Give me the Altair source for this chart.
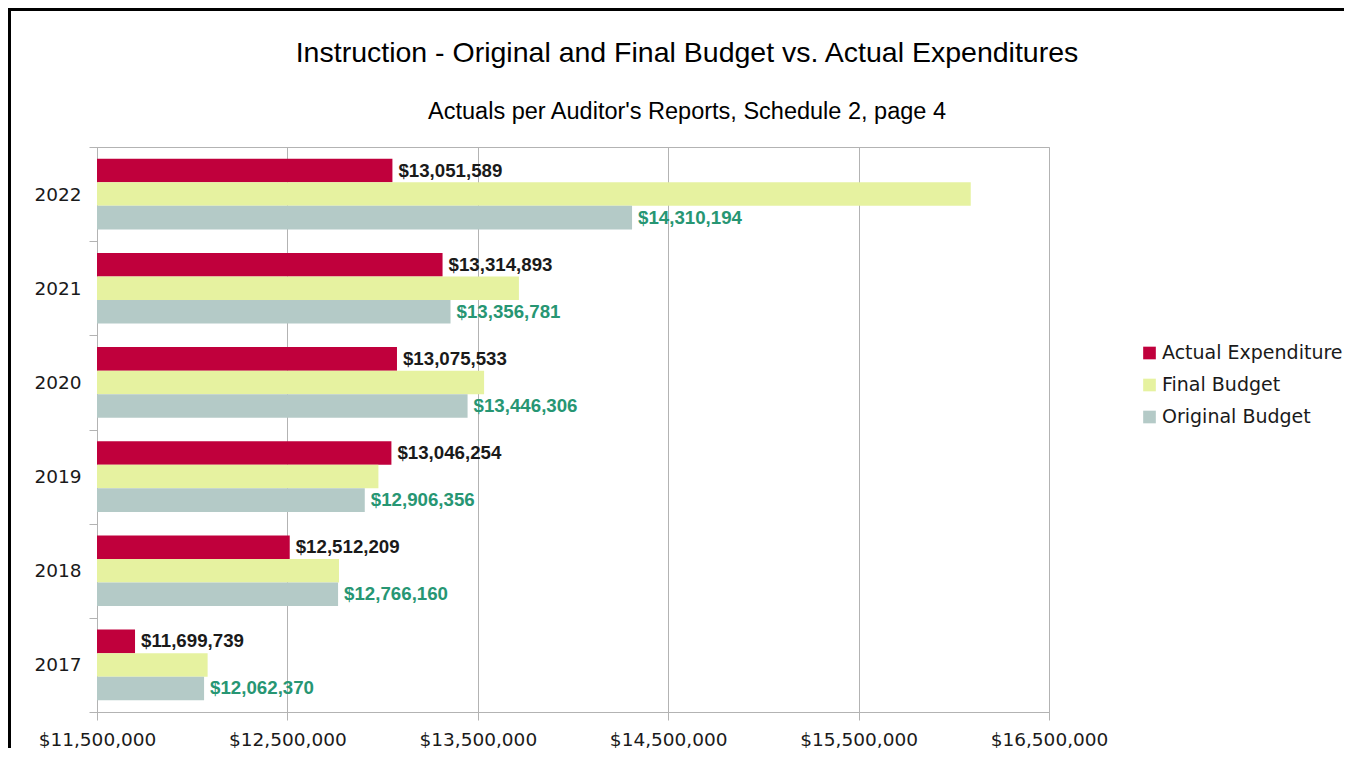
import altair as alt
import pandas as pd

years = ["2017", "2018", "2019", "2020", "2021", "2022"]
actual = [11699739, 12512209, 13046254, 13075533, 13314893, 13051589]
final_budget = [12081000, 12771000, 12978000, 13533000, 13716000, 16089000]
original = [12062370, 12766160, 12906356, 13446306, 13356781, 14310194]
series = ["Actual Expenditure", "Final Budget", "Original Budget"]
colors = ["#c0003c", "#e6f2a0", "#b4cac7"]
x_ticks = [11500000, 12500000, 13500000, 14500000, 15500000, 16500000]
title_text = "Instruction - Original and Final Budget vs. Actual Expenditures"
subtitle_text = "Actuals per Auditor's Reports, Schedule 2, page 4"

rows = []
for i, yr in enumerate(years):
    for s, vals in zip(series, [actual, final_budget, original]):
        rows.append({"year": yr, "series": s, "value": vals[i]})
df = pd.DataFrame(rows)

year_order = years[::-1]
GRID = "#b3b3b3"

y_enc = alt.Y(
    "year:N", sort=year_order,
    scale=alt.Scale(paddingInner=0, paddingOuter=0),
    axis=alt.Axis(title=None, tickBand="extent", tickSize=8, tickColor=GRID,
                  domainColor=GRID, labelFontSize=18.5, labelFont="DejaVu Sans",
                  labelColor="#1a1a1a", labelPadding=8, grid=False),
)
yoff = alt.YOffset("series:N", sort=series,
                   scale=alt.Scale(paddingInner=0, paddingOuter=0.5))
x_enc = alt.X(
    "value:Q",
    scale=alt.Scale(domain=[11500000, 16500000], nice=False, zero=False),
    axis=alt.Axis(title=None, values=x_ticks, format="$,.0f", grid=True,
                  gridColor=GRID, tickColor=GRID, domainColor=GRID, tickSize=8,
                  labelFontSize=18.5, labelFont="DejaVu Sans", labelFlush=False,
                  labelColor="#1a1a1a", labelPadding=10),
)

base = alt.Chart(df)

bars = base.mark_bar().encode(
    y=y_enc, yOffset=yoff, x=x_enc, x2=alt.datum(11500000),
    color=alt.Color(
        "series:N", sort=series,
        scale=alt.Scale(domain=series, range=colors),
        legend=alt.Legend(orient="none", legendX=1043, legendY=196.5, title=None,
                          symbolType="square", symbolSize=160, symbolStrokeWidth=0,
                          labelFontSize=19, labelFont="DejaVu Sans", labelLimit=0,
                          labelColor="#1a1a1a", rowPadding=12, labelOffset=3,
                          padding=0),
    ),
)

label_style = dict(align="left", baseline="middle", dx=6, fontSize=18.7,
                   font="Liberation Sans", fontWeight="bold")

labels_actual = base.transform_filter(
    alt.datum.series == "Actual Expenditure"
).mark_text(color="#1a1a1a", **label_style).encode(
    y=y_enc, yOffset=yoff, x=x_enc, text=alt.Text("value:Q", format="$,.0f"))

labels_orig = base.transform_filter(
    alt.datum.series == "Original Budget"
).mark_text(color="#279673", **label_style).encode(
    y=y_enc, yOffset=yoff, x=x_enc, text=alt.Text("value:Q", format="$,.0f"))

titles = alt.Chart(alt.Data(values=[{"t": title_text}])).mark_text(
    font="Liberation Sans", fontSize=28.5, color="#000000", align="center",
    baseline="alphabetic", clip=False
).encode(text="t:N", x=alt.value(590), y=alt.value(-85))

subtitles = alt.Chart(alt.Data(values=[{"t": subtitle_text}])).mark_text(
    font="Liberation Sans", fontSize=23.5, color="#000000", align="center",
    baseline="alphabetic", clip=False
).encode(text="t:N", x=alt.value(590), y=alt.value(-28))

frame = alt.Chart(alt.Data(values=[{"a": 1}])).mark_rect(
    fill="white", fillOpacity=0, stroke="black", strokeWidth=3, clip=False
).encode(x=alt.value(-87.5), x2=alt.value(1400), y=alt.value(-137.5), y2=alt.value(800))

chart = alt.layer(frame, titles, subtitles, bars, labels_actual, labels_orig).properties(
    width=952, height=565,
    padding={"left": 89, "top": 139, "right": 295, "bottom": 36},
    autosize=alt.AutoSizeParams(type="none"),
).configure_view(stroke=GRID)

chart.save("out.html", embed_options={"renderer": "svg", "actions": False})
